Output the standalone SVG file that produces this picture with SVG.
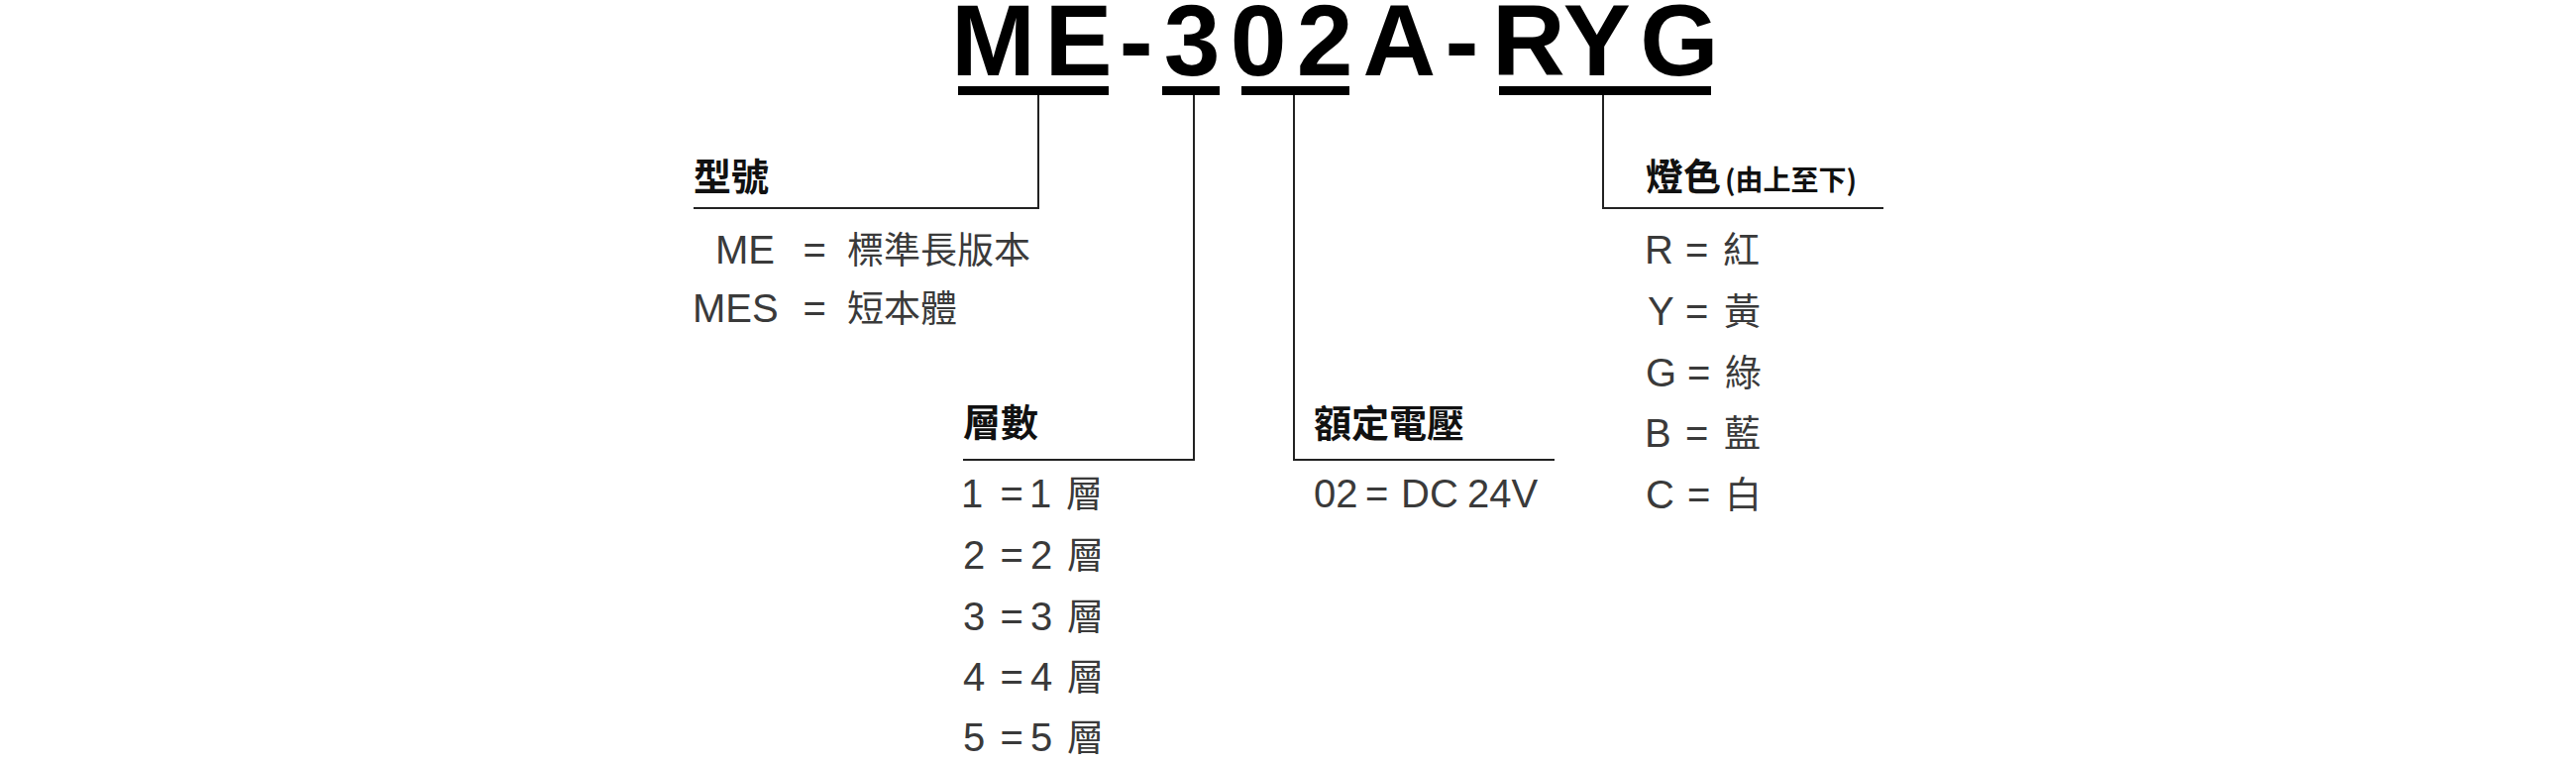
<svg xmlns="http://www.w3.org/2000/svg" width="2600" height="770" viewBox="0 0 2600 770">
<style>
.title{font-family:"Liberation Sans",Arial,sans-serif;font-weight:bold;font-size:102px;fill:#000;text-anchor:middle}
.head{font-family:"Noto Sans CJK TC","Noto Sans CJK SC",sans-serif;font-weight:bold;font-size:38px;fill:#111}
.sub{font-size:28px}
.lat{font-family:"Liberation Sans",Arial,"Noto Sans CJK TC",sans-serif;font-size:40px;fill:#3a3a3a}
.cjk{font-family:"Noto Sans CJK TC","Noto Sans CJK SC",sans-serif;font-size:37px;fill:#3a3a3a}
.bar{fill:#000}
.conn{fill:none;stroke:#222;stroke-width:2}
</style>
<rect width="2600" height="770" fill="#fff"/>
<g id="title">
<text class="title" x="1002.4 1088.5 1146.7 1203 1270 1337 1412.4 1475.5 1542.8 1611.8 1694.8" y="76">ME-302A-RYG</text>
<rect class="bar" x="967" y="87" width="152" height="9"/>
<rect class="bar" x="1173" y="87" width="58" height="9"/>
<rect class="bar" x="1253" y="87" width="109" height="9"/>
<rect class="bar" x="1513" y="87" width="214" height="9"/>
</g>
<g id="connectors">
<path class="conn" d="M700,210 H1048 V96"/>
<path class="conn" d="M972,464 H1205 V96"/>
<path class="conn" d="M1306,96 V464 H1569"/>
<path class="conn" d="M1618,96 V210 H1901"/>
</g>
<g id="model">
<text class="head" x="700" y="192">型號</text>
<text class="lat" x="722" y="266">ME</text>
<text class="lat" x="810.5" y="266">=</text>
<text class="cjk" x="855" y="266">標準長版本</text>
<text class="lat" x="699" y="325">MES</text>
<text class="lat" x="810.5" y="325">=</text>
<text class="cjk" x="855" y="325">短本體</text>
</g>
<g id="layers">
<text class="head" x="972" y="440">層數</text>
<text class="lat" x="970" y="512">1</text><text class="lat" x="1009.5" y="512">=</text><text class="lat" x="1039" y="512">1</text><text class="cjk" x="1076" y="512">層</text>
<text class="lat" x="972" y="574">2</text><text class="lat" x="1009.5" y="574">=</text><text class="lat" x="1040" y="574">2</text><text class="cjk" x="1077" y="574">層</text>
<text class="lat" x="972" y="636">3</text><text class="lat" x="1009.5" y="636">=</text><text class="lat" x="1040" y="636">3</text><text class="cjk" x="1077" y="636">層</text>
<text class="lat" x="972" y="697">4</text><text class="lat" x="1009.5" y="697">=</text><text class="lat" x="1040" y="697">4</text><text class="cjk" x="1077" y="697">層</text>
<text class="lat" x="972" y="758">5</text><text class="lat" x="1009.5" y="758">=</text><text class="lat" x="1040" y="758">5</text><text class="cjk" x="1077" y="758">層</text>
</g>
<g id="voltage">
<text class="head" x="1326" y="441">額定電壓</text>
<text class="lat" y="512"><tspan x="1326">02</tspan><tspan x="1378">=</tspan><tspan x="1414">DC</tspan><tspan x="1481">24V</tspan></text>
</g>
<g id="colors">
<text class="head" x="1661" y="192">燈色<tspan class="sub" x="1741">(由上至下)</tspan></text>
<text class="lat" x="1660" y="266">R</text><text class="lat" x="1701" y="266">=</text><text class="cjk" x="1739" y="266">紅</text>
<text class="lat" x="1663" y="328">Y</text><text class="lat" x="1701" y="328">=</text><text class="cjk" x="1740" y="328">黃</text>
<text class="lat" x="1661" y="390">G</text><text class="lat" x="1703" y="390">=</text><text class="cjk" x="1741" y="390">綠</text>
<text class="lat" x="1660" y="451">B</text><text class="lat" x="1701" y="451">=</text><text class="cjk" x="1740" y="451">藍</text>
<text class="lat" x="1661" y="513">C</text><text class="lat" x="1703" y="513">=</text><text class="cjk" x="1741" y="513">白</text>
</g>
</svg>
